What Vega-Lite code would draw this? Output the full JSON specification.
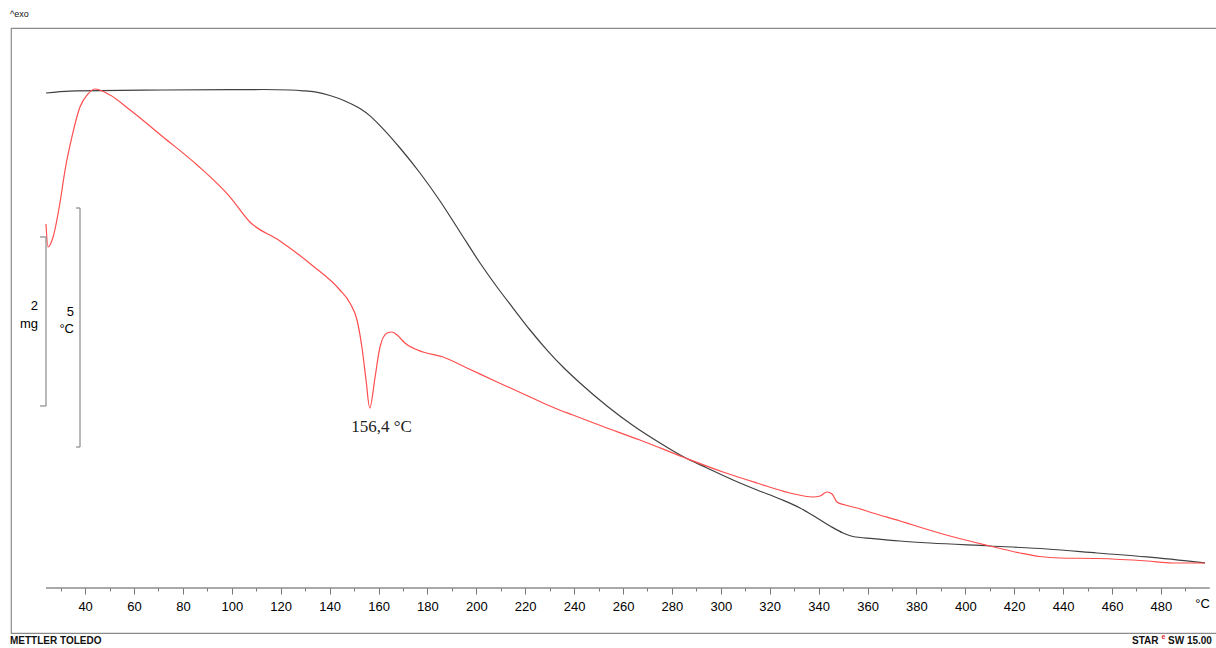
{
  "$schema": "https://vega.github.io/schema/vega-lite/v6.json",
  "width": 1207,
  "height": 605,
  "autosize": {"type": "none"},
  "padding": {"left": 11, "top": 28, "right": 0, "bottom": 15},
  "background": "white",
  "config": {
    "view": {"stroke": "#8a8a8a", "strokeWidth": 1.2},
    "text": {"font": "Liberation Sans"}
  },
  "datasets": {
    "tga": [
      {"T": 24.0, "m": 9.981}, {"T": 33.82, "m": 10.004}, {"T": 71.85, "m": 10.016}, {"T": 112.75, "m": 10.022},
      {"T": 123.8, "m": 10.016}, {"T": 129.11, "m": 10.007}, {"T": 134.02, "m": 9.993}, {"T": 140.16, "m": 9.951},
      {"T": 146.29, "m": 9.886}, {"T": 152.43, "m": 9.797}, {"T": 156.52, "m": 9.71}, {"T": 160.61, "m": 9.595},
      {"T": 168.79, "m": 9.33}, {"T": 176.97, "m": 9.034}, {"T": 185.15, "m": 8.703}, {"T": 193.33, "m": 8.336},
      {"T": 201.51, "m": 7.969}, {"T": 208.46, "m": 7.685}, {"T": 215.0, "m": 7.436}, {"T": 221.96, "m": 7.176},
      {"T": 228.91, "m": 6.939}, {"T": 235.45, "m": 6.738}, {"T": 242.41, "m": 6.549}, {"T": 253.44, "m": 6.277},
      {"T": 264.08, "m": 6.046}, {"T": 275.13, "m": 5.839}, {"T": 284.53, "m": 5.679}, {"T": 294.36, "m": 5.543},
      {"T": 304.99, "m": 5.401}, {"T": 314.8, "m": 5.283}, {"T": 324.21, "m": 5.176}, {"T": 332.39, "m": 5.07},
      {"T": 339.35, "m": 4.951}, {"T": 344.66, "m": 4.857}, {"T": 349.98, "m": 4.774}, {"T": 354.06, "m": 4.732},
      {"T": 362.24, "m": 4.708}, {"T": 373.29, "m": 4.679}, {"T": 385.56, "m": 4.655}, {"T": 410.09, "m": 4.62},
      {"T": 433.4, "m": 4.584}, {"T": 453.87, "m": 4.537}, {"T": 474.31, "m": 4.49}, {"T": 498.04, "m": 4.419}
    ],
    "sdta": [
      {"T": 24.0, "d": 8.556}, {"T": 24.8, "d": 8.075}, {"T": 26.9, "d": 8.285}, {"T": 29.7, "d": 8.996},
      {"T": 31.8, "d": 9.686}, {"T": 34.6, "d": 10.377}, {"T": 37.9, "d": 11.004}, {"T": 40.8, "d": 11.255},
      {"T": 44.0, "d": 11.381}, {"T": 50.2, "d": 11.255}, {"T": 58.4, "d": 10.941}, {"T": 71.9, "d": 10.377},
      {"T": 85.8, "d": 9.791}, {"T": 99.3, "d": 9.121}, {"T": 107.4, "d": 8.598}, {"T": 119.7, "d": 8.201},
      {"T": 133.2, "d": 7.678}, {"T": 144.2, "d": 7.176}, {"T": 148.3, "d": 6.904}, {"T": 151.2, "d": 6.548},
      {"T": 153.2, "d": 5.983}, {"T": 154.9, "d": 5.293}, {"T": 156.4, "d": 4.707}, {"T": 158.6, "d": 5.356},
      {"T": 160.6, "d": 5.983}, {"T": 163.5, "d": 6.276}, {"T": 165.5, "d": 6.297}, {"T": 167.6, "d": 6.234},
      {"T": 170.8, "d": 6.067}, {"T": 178.2, "d": 5.879}, {"T": 186.4, "d": 5.774}, {"T": 196.2, "d": 5.544},
      {"T": 208.5, "d": 5.251}, {"T": 222.0, "d": 4.937}, {"T": 233.0, "d": 4.686}, {"T": 239.5, "d": 4.561},
      {"T": 253.4, "d": 4.289}, {"T": 266.9, "d": 4.038}, {"T": 284.5, "d": 3.682}, {"T": 300.9, "d": 3.368},
      {"T": 314.8, "d": 3.138}, {"T": 328.3, "d": 2.929}, {"T": 337.7, "d": 2.845}, {"T": 340.6, "d": 2.866},
      {"T": 343.4, "d": 2.95}, {"T": 345.5, "d": 2.908}, {"T": 347.5, "d": 2.741}, {"T": 350.8, "d": 2.678},
      {"T": 355.7, "d": 2.615}, {"T": 362.2, "d": 2.51}, {"T": 373.3, "d": 2.343}, {"T": 378.6, "d": 2.259},
      {"T": 393.7, "d": 2.029}, {"T": 410.1, "d": 1.82}, {"T": 422.4, "d": 1.674}, {"T": 430.5, "d": 1.6},
      {"T": 438.7, "d": 1.569}, {"T": 453.9, "d": 1.559}, {"T": 474.3, "d": 1.506}, {"T": 484.9, "d": 1.464},
      {"T": 498.0, "d": 1.464}
    ],
    "axisline": [{"T": 24, "T2": 500, "m": 4.1228}],
    "massbar": [
      {"T": 21.55, "T2": 24, "m": 8.277, "m2": 8.277},
      {"T": 24, "T2": 24, "m": 8.277, "m2": 6.277},
      {"T": 21.55, "T2": 24, "m": 6.277, "m2": 6.277}
    ],
    "tempbar": [
      {"T": 36.27, "T2": 37.91, "d": 8.891, "d2": 8.891},
      {"T": 37.91, "T2": 37.91, "d": 8.891, "d2": 3.891},
      {"T": 36.27, "T2": 37.91, "d": 3.891, "d2": 3.891}
    ],
    "masslabels": [
      {"T": 20.73, "m": 7.46, "label": "2"},
      {"T": 20.73, "m": 7.247, "label": "mg"},
      {"T": 500.0, "m": 3.933, "label": "°C"}
    ],
    "templabels": [
      {"T": 35.45, "d": 6.715, "label": "5"},
      {"T": 35.45, "d": 6.36, "label": "°C"}
    ],
    "peak": [{"T": 161.2, "d": 4.31, "label": "156,4 °C"}],
    "footer": [
      {"T": 9.28, "m": 3.496, "label": "METTLER TOLEDO"},
      {"T": 468.2, "m": 3.496, "label": "STAR"},
      {"T": 482.9, "m": 3.496, "label": "SW 15.00"}
    ],
    "star_e": [{"T": 480.2, "m": 3.54, "label": "e"}],
    "exo": [{"T": 9.28, "m": 10.916, "label": "^exo"}]
  },
  "encoding": {
    "x": {
      "field": "T",
      "type": "quantitative",
      "scale": {"domain": [9.685, 503.35]},
      "axis": {
        "title": null,
        "domain": false,
        "grid": false,
        "values": [30, 40, 50, 60, 70, 80, 90, 100, 110, 120, 130, 140, 150, 160, 170, 180, 190, 200, 210, 220, 230, 240, 250, 260, 270, 280, 290, 300, 310, 320, 330, 340, 350, 360, 370, 380, 390, 400, 410, 420, 430, 440, 450, 460, 470, 480, 490],
        "labelExpr": "datum.value % 20 === 0 ? datum.label : ''",
        "tickSize": {"condition": {"test": "datum.value % 20 === 0", "value": 6}, "value": 3},
        "tickColor": "#777777",
        "tickWidth": 1,
        "offset": -45,
        "format": "d",
        "labelFont": "Liberation Sans",
        "labelFontSize": 13,
        "labelColor": "#000000",
        "labelPadding": 6,
        "labelFlush": false,
        "labelOverlap": false
      }
    }
  },
  "layer": [
    {
      "data": {"name": "axisline"},
      "mark": {"type": "rule", "color": "#555555", "strokeWidth": 1.2},
      "encoding": {
        "x2": {"field": "T2"},
        "y": {"field": "m", "type": "quantitative", "scale": {"domain": [3.5902, 10.75]}, "axis": null}
      }
    },
    {
      "data": {"name": "tga"},
      "mark": {"type": "line", "color": "#404040", "strokeWidth": 1.2, "interpolate": "monotone"},
      "encoding": {
        "y": {"field": "m", "type": "quantitative", "scale": {"domain": [3.5902, 10.75]}, "axis": null}
      }
    },
    {
      "data": {"name": "sdta"},
      "mark": {"type": "line", "color": "#ff4d4d", "strokeWidth": 1.2, "interpolate": "monotone"},
      "encoding": {
        "y": {"field": "d", "type": "quantitative", "scale": {"domain": [0, 12.657]}, "axis": null}
      }
    },
    {
      "data": {"name": "massbar"},
      "mark": {"type": "rule", "color": "#8a8a8a", "strokeWidth": 1.2},
      "encoding": {
        "x2": {"field": "T2"},
        "y": {"field": "m", "type": "quantitative", "scale": {"domain": [3.5902, 10.75]}, "axis": null},
        "y2": {"field": "m2"}
      }
    },
    {
      "data": {"name": "tempbar"},
      "mark": {"type": "rule", "color": "#8a8a8a", "strokeWidth": 1.2},
      "encoding": {
        "x2": {"field": "T2"},
        "y": {"field": "d", "type": "quantitative", "scale": {"domain": [0, 12.657]}, "axis": null},
        "y2": {"field": "d2"}
      }
    },
    {
      "data": {"name": "masslabels"},
      "mark": {"type": "text", "align": "right", "baseline": "middle", "fontSize": 13, "color": "#000000"},
      "encoding": {
        "y": {"field": "m", "type": "quantitative", "scale": {"domain": [3.5902, 10.75]}, "axis": null},
        "text": {"field": "label"}
      }
    },
    {
      "data": {"name": "templabels"},
      "mark": {"type": "text", "align": "right", "baseline": "middle", "fontSize": 13, "color": "#000000"},
      "encoding": {
        "y": {"field": "d", "type": "quantitative", "scale": {"domain": [0, 12.657]}, "axis": null},
        "text": {"field": "label"}
      }
    },
    {
      "data": {"name": "peak"},
      "mark": {"type": "text", "align": "center", "baseline": "middle", "fontSize": 17, "font": "Liberation Serif", "color": "#222222"},
      "encoding": {
        "y": {"field": "d", "type": "quantitative", "scale": {"domain": [0, 12.657]}, "axis": null},
        "text": {"field": "label"}
      }
    },
    {
      "data": {"name": "footer"},
      "mark": {"type": "text", "align": "left", "baseline": "middle", "fontSize": 10, "fontWeight": "bold", "color": "#111111"},
      "encoding": {
        "y": {"field": "m", "type": "quantitative", "scale": {"domain": [3.5902, 10.75]}, "axis": null},
        "text": {"field": "label"}
      }
    },
    {
      "data": {"name": "star_e"},
      "mark": {"type": "text", "align": "left", "baseline": "middle", "fontSize": 7, "fontWeight": "bold", "color": "#e0262b"},
      "encoding": {
        "y": {"field": "m", "type": "quantitative", "scale": {"domain": [3.5902, 10.75]}, "axis": null},
        "text": {"field": "label"}
      }
    },
    {
      "data": {"name": "exo"},
      "mark": {"type": "text", "align": "left", "baseline": "middle", "fontSize": 9, "color": "#111111"},
      "encoding": {
        "y": {"field": "m", "type": "quantitative", "scale": {"domain": [3.5902, 10.75]}, "axis": null},
        "text": {"field": "label"}
      }
    }
  ],
  "resolve": {"scale": {"y": "independent"}}
}
